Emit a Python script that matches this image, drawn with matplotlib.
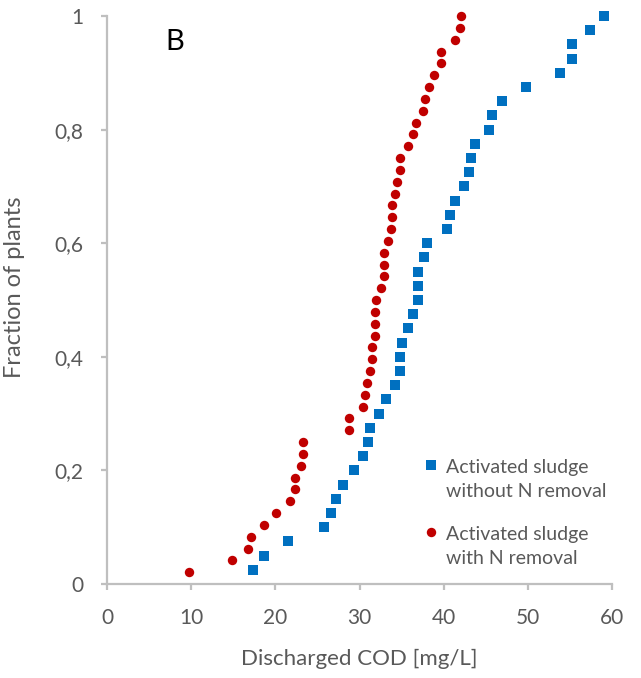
import numpy as np
import matplotlib
matplotlib.use("Agg")
import matplotlib.pyplot as plt

# ===== DATA =====
cod_no_n = [17.3, 18.7, 21.5, 25.8, 26.6, 27.2, 28.0, 29.4, 30.4, 31.0,
            31.2, 32.3, 33.1, 34.2, 34.8, 34.8, 35.0, 35.8, 36.4, 37.0,
            37.0, 37.0, 37.7, 38.0, 40.4, 40.7, 41.3, 42.4, 43.0, 43.2,
            43.7, 45.4, 45.7, 46.9, 49.8, 53.8, 55.2, 55.2, 57.4, 59.0]
cod_with_n = [9.7, 14.9, 16.8, 17.1, 18.7, 20.1, 21.7, 22.3, 22.3, 23.1,
              23.3, 23.3, 28.7, 28.8, 30.4, 30.7, 30.9, 31.2, 31.5, 31.5,
              31.8, 31.8, 31.8, 32.0, 32.6, 32.9, 32.9, 32.9, 33.4, 33.7,
              33.9, 33.9, 34.2, 34.5, 34.8, 34.8, 35.8, 36.4, 36.7, 37.5,
              37.8, 38.3, 38.9, 39.7, 39.7, 41.4, 41.9, 42.1]
frac_no_n = np.arange(1, len(cod_no_n) + 1) / len(cod_no_n)
frac_with_n = np.arange(1, len(cod_with_n) + 1) / len(cod_with_n)

label_no_n = "Activated sludge\nwithout N removal"
label_with_n = "Activated sludge\nwith N removal"
x_ticks = [0, 10, 20, 30, 40, 50, 60]
y_ticks = [0, 0.2, 0.4, 0.6, 0.8, 1.0]
y_tick_labels = ["0", "0,2", "0,4", "0,6", "0,8", "1"]

# ===== FIGURE =====
plt.rcParams['font.family'] = ['Lato', 'DejaVu Sans']
grey_text = "#595959"
grey_axis = "#bfbfbf"

fig = plt.figure(figsize=(6.41, 6.78), dpi=100)
ax = fig.add_axes([107 / 641, 1 - 584 / 678, 505 / 641, 568 / 678])

ax.scatter(cod_no_n, frac_no_n, marker='s', s=52, color="#0070C0",
           linewidths=0, label=label_no_n, clip_on=False, zorder=3)
ax.scatter(cod_with_n, frac_with_n, marker='o', s=46, color="#C00000",
           linewidths=0, label=label_with_n, clip_on=False, zorder=3)

ax.set_xlim(0, 60)
ax.set_ylim(0, 1)
ax.set_xticks(x_ticks)
ax.set_yticks(y_ticks)
ax.set_yticklabels(y_tick_labels)

for side in ['top', 'right']:
    ax.spines[side].set_visible(False)
for side in ['left', 'bottom']:
    ax.spines[side].set_color(grey_axis)
    ax.spines[side].set_linewidth(1.6)
ax.tick_params(axis='both', direction='out', length=4, width=1.6,
               color=grey_axis, labelcolor=grey_text, labelsize=15)
ax.tick_params(axis='x', pad=13)
ax.tick_params(axis='y', pad=13)

ax.set_xlabel("Discharged COD [mg/L]", fontsize=16, color=grey_text)
ax.set_ylabel("Fraction of plants", fontsize=17, color=grey_text)
ax.xaxis.set_label_coords(0.5, -0.114)
ax.yaxis.set_label_coords(-0.162, 0.522)

ax.text(0.115, 0.955, "B", transform=ax.transAxes, fontsize=21,
        color="black", va='center', ha='left')

# legend: marker sits next to the first line of each label
leg = ax.legend(loc='upper left', bbox_to_anchor=(0.622, 0.2205), frameon=False,
                fontsize=14, handletextpad=0.3, labelspacing=1.3,
                handlelength=1.0, borderaxespad=0, borderpad=0,
                scatteryoffsets=[1.6])
for t in leg.get_texts():
    t.set_color(grey_text)
    t.set_linespacing(1.55)

fig.savefig("out.png", dpi=100)
